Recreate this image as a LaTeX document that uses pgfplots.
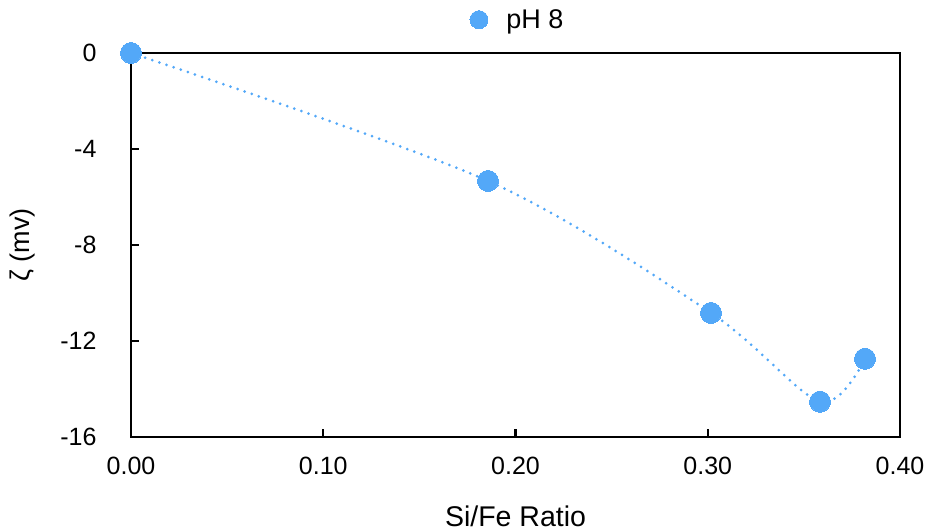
\documentclass[border=0pt]{standalone}
\usepackage{pgfplots}
\pgfplotsset{compat=1.18}
\usepackage{fontspec}
\setmainfont{Liberation Sans}
\definecolor{ptblue}{RGB}{83,168,248}
\begin{document}
\begin{tikzpicture}
\begin{axis}[
  scale only axis,
  width=769bp, height=384bp,
  xmin=0, xmax=0.4, ymin=-16, ymax=0,
  xtick={0,0.1,0.2,0.3,0.4},
  ytick={-16,-12,-8,-4,0},
  xticklabels={0.00,0.10,0.20,0.30,0.40},
  yticklabels={-16,-12,-8,-4,0},
  tick align=inside,
  xtick pos=bottom, ytick pos=left,
  major tick length=8bp,
  every tick/.style={black, line width=2.2bp},
  axis line style={black, line width=2.6bp},
  ticklabel style={font=\fontsize{25bp}{28bp}\selectfont},
  xticklabel style={yshift=-17bp},
  yticklabel style={xshift=-31bp},
  xlabel={Si/Fe Ratio},
  ylabel={ζ (mv)},
  xlabel style={at={([yshift=-89bp]rel axis cs:0.5,0)}, anchor=base, inner sep=0pt, font=\fontsize{28.5bp}{30bp}\selectfont},
  ylabel style={at={([xshift=-101bp]rel axis cs:0,0.5)}, anchor=base, rotate=0, font=\fontsize{27bp}{30bp}\selectfont},
  legend style={at={([yshift=21bp]rel axis cs:0.5,1)}, anchor=south, draw=none, fill=none,
    font=\fontsize{27bp}{30bp}\selectfont, inner sep=0pt,
    /tikz/every even column/.append style={column sep=6bp}},
  legend cell align=left,
  legend image code/.code={\draw[#1, draw=none, mark size=9bp] plot coordinates {(-4bp,0bp)}; \path (-16bp,0) (20bp,0);},
  clip=false,
]
\addplot+[smooth, ptblue, line width=3bp, line cap=round, dash pattern=on 0pt off 7.5bp,
  mark=*, mark size=10.5bp, mark options={solid, fill=ptblue, draw=ptblue, line width=0pt}]
  coordinates {
  (0,0) (0.1857,-5.33) (0.3017,-10.83) (0.3584,-14.53) (0.3818,-12.74)
};
\addlegendentry{pH 8}
\coordinate (o) at (rel axis cs:0,0);
\end{axis}
\path[use as bounding box] (o) ++(-131bp,-94bp) rectangle ++(929bp,531bp);
\end{tikzpicture}
\end{document}
